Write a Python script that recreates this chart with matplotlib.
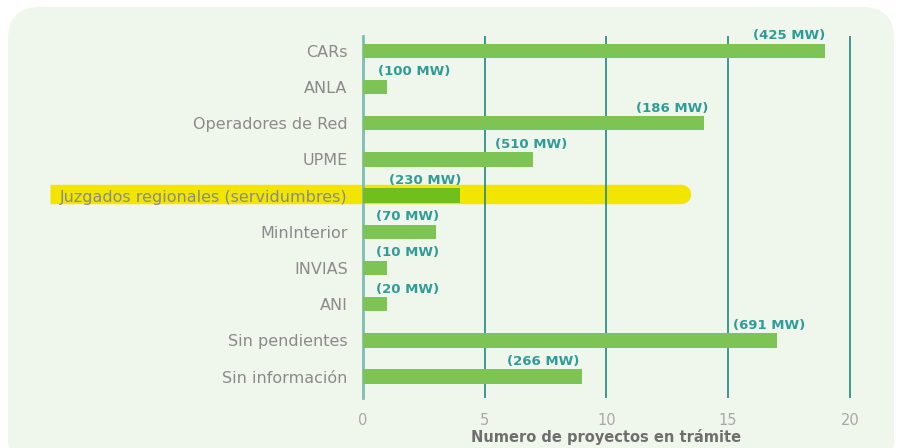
import matplotlib
matplotlib.use("Agg")
import matplotlib.pyplot as plt
from matplotlib.patches import FancyBboxPatch
from matplotlib.lines import Line2D

# Data
categories = ["CARs", "ANLA", "Operadores de Red", "UPME",
              "Juzgados regionales (servidumbres)", "MinInterior",
              "INVIAS", "ANI", "Sin pendientes", "Sin información"]
projects = [19, 1, 14, 7, 4, 3, 1, 1, 17, 9]
mw_labels = ["(425 MW)", "(100 MW)", "(186 MW)", "(510 MW)", "(230 MW)",
             "(70 MW)", "(10 MW)", "(20 MW)", "(691 MW)", "(266 MW)"]
x_ticks = [0, 5, 10, 15, 20]

# Layout: center of each MW label (data units)
label_x = [17.5, 2.1, 12.7, 6.9, 2.55, 1.85, 1.85, 1.85, 16.7, 7.4]

bar_color = "#7dc455"
highlight_bar = "#70bf1c"
teal = "#2e9088"
label_teal = "#2f9c97"
gray = "#8a8a8a"

plt.rcParams['font.family'] = ['DejaVu Sans']

fig = plt.figure(figsize=(8.99, 4.48), dpi=100)
fig.patch.set_facecolor("white")

# rounded light-green panel
panel = FancyBboxPatch((8 / 899, -0.05), 886 / 899, 1 - 7 / 448 + 0.05,
                       boxstyle="round,pad=0,rounding_size=0.035",
                       transform=fig.transFigure, facecolor="#eff7ed",
                       edgecolor="none", zorder=-3, mutation_aspect=899 / 448)
fig.add_artist(panel)

# yellow highlighter stroke
fig.add_artist(Line2D([50 / 899, 680 / 899], [1 - 194 / 448, 1 - 194 / 448],
                      transform=fig.transFigure, color="#f2e600", lw=14,
                      solid_capstyle="butt", zorder=-2))
fig.add_artist(Line2D([680 / 899, 681 / 899], [1 - 194 / 448, 1 - 194 / 448],
                      transform=fig.transFigure, color="#f2e600", lw=14,
                      solid_capstyle="round", zorder=-2))

ax = fig.add_axes([363 / 899, 1 - 398 / 448, 499 / 899, 362 / 448])
ax.set_facecolor("none")

ypos = list(range(len(categories)))
colors = [highlight_bar if c.startswith("Juzgados") else bar_color for c in categories]
ax.barh(ypos, projects, height=0.4, color=colors, zorder=3)

for y, lx, txt in zip(ypos, label_x, mw_labels):
    ax.text(lx, y - 0.42, txt, ha="center", va="center", fontsize=9.5,
            fontweight="bold", color=label_teal, zorder=4)

ax.set_xlim(0, 20.5)
ax.set_ylim(9.59, -0.41)
ax.set_xticks(x_ticks)
ax.set_yticks(ypos)
ax.set_yticklabels(categories)

for v in x_ticks[1:]:
    ax.axvline(v, color=teal, lw=1.3, zorder=2)

for s in ["top", "right", "bottom"]:
    ax.spines[s].set_visible(False)
ax.spines["left"].set_color("#7dbdb6")
ax.spines["left"].set_linewidth(2)
ax.spines["left"].set_zorder(2.5)

ax.tick_params(axis="y", length=0, pad=11, labelsize=11.5, labelcolor=gray)
ax.tick_params(axis="x", length=0, pad=11, labelsize=10.5, labelcolor="#a8a8a8")

ax.set_xlabel("Numero de proyectos en trámite", fontsize=10.5, fontweight="bold",
              color="#6e6e6e")
ax.xaxis.set_label_coords(243 / 499, -31 / 362)

fig.savefig("out.png", dpi=100)
